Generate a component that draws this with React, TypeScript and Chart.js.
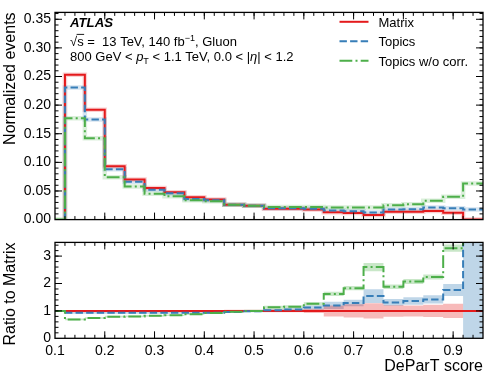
import React, { useEffect, useRef } from "react";
import { Chart, registerables } from "chart.js";
Chart.register(...registerables);

const FONT = "'Liberation Sans', Arial, Helvetica, sans-serif";

// Bin edges of the DeParT score histograms
const BIN_EDGES = [0.12, 0.16, 0.2, 0.24, 0.28, 0.32, 0.36, 0.4, 0.44, 0.48, 0.52, 0.56, 0.6, 0.64, 0.68, 0.72, 0.76, 0.8, 0.84, 0.88, 0.92, 0.96];
const X_MIN = 0.1;
const X_MAX = 0.96;

// Normalized events (upper panel)
const MATRIX = [0.253, 0.192, 0.093, 0.07, 0.055, 0.048, 0.039, 0.035, 0.026, 0.024, 0.019, 0.019, 0.0175, 0.013, 0.0115, 0.008, 0.0135, 0.0135, 0.015, 0.012, 0.0];
const TOPICS = [0.231, 0.175, 0.088, 0.066, 0.052, 0.046, 0.036, 0.034, 0.026, 0.024, 0.02, 0.02, 0.019, 0.0158, 0.0148, 0.0125, 0.0175, 0.018, 0.021, 0.02, 0.0175];
const TOPICS_NOCORR = [0.177, 0.142, 0.074, 0.058, 0.045, 0.041, 0.034, 0.032, 0.026, 0.024, 0.022, 0.022, 0.022, 0.021, 0.021, 0.021, 0.025, 0.027, 0.033, 0.04, 0.063];

// Ratio to Matrix (lower panel)
const RATIO_MATRIX = [1, 1, 1, 1, 1, 1, 1, 1, 1, 1, 1, 1, 1, 1, 1, 1, 1, 1, 1, 1, 1];
const RATIO_TOPICS = [0.93, 0.93, 0.93, 0.93, 0.93, 0.93, 0.93, 0.93, 0.96, 0.99, 1.02, 1.05, 1.12, 1.2, 1.29, 1.54, 1.31, 1.36, 1.42, 1.76, 6];
const RATIO_NOCORR = [0.69, 0.74, 0.79, 0.8, 0.82, 0.84, 0.88, 0.92, 0.97, 1.0, 1.13, 1.15, 1.26, 1.62, 1.83, 2.6, 1.88, 2.07, 2.24, 3.29, 6];
// Uncertainty half-widths of the ratios
const ERR_MATRIX = [0.03, 0.03, 0.03, 0.03, 0.03, 0.03, 0.03, 0.03, 0.04, 0.04, 0.05, 0.05, 0.08, 0.2, 0.24, 0.28, 0.21, 0.2, 0.22, 0.26, 0];
const ERR_TOPICS = [0.03, 0.03, 0.03, 0.03, 0.03, 0.03, 0.03, 0.03, 0.04, 0.04, 0.05, 0.05, 0.08, 0.13, 0.12, 0.25, 0.12, 0.14, 0.15, 0.22, 10];
const ERR_NOCORR = [0.03, 0.03, 0.03, 0.03, 0.03, 0.03, 0.03, 0.03, 0.04, 0.04, 0.06, 0.06, 0.06, 0.08, 0.08, 0.15, 0.08, 0.09, 0.09, 0.13, 0.3];

const SERIES_NAMES = ["Matrix", "Topics", "Topics w/o corr."];
const RED = "#e41a1c";
const BLUE = "#377eb8";
const GREEN = "#4daf4a";
const RED_BAND = "rgba(228,26,28,0.3)";
const BLUE_BAND = "rgba(55,126,184,0.32)";
const GREEN_BAND = "rgba(77,175,74,0.3)";
const RED_EDGE = "rgba(228,26,28,0.2)";
const BLUE_EDGE = "rgba(55,126,184,0.2)";
const GREEN_EDGE = "rgba(77,175,74,0.2)";
const DASH_BLUE = [7.4, 3.2];
const DASH_GREEN = [12.8, 3.2, 2, 3.2];

// Tick steps
const TOP_Y_MAX = 0.362;
const TOP_Y_MAJOR = 0.05;
const TOP_Y_MINOR = 0.01;
const RATIO_Y_MAX = 3.5;
const RATIO_Y_MAJOR = 1;
const RATIO_Y_MINOR = 0.2;
const X_MAJOR = 0.1;
const X_MINOR = 0.02;

type Pt = { x: number; y: number };

function steps(vals: number[], start?: Pt): Pt[] {
  const pts: Pt[] = [];
  if (start) pts.push(start);
  vals.forEach((v, i) => pts.push({ x: BIN_EDGES[i], y: v }));
  pts.push({ x: BIN_EDGES[BIN_EDGES.length - 1], y: vals[vals.length - 1] });
  return pts;
}

function tickList(min: number, max: number, step: number): number[] {
  const out: number[] = [];
  const n = Math.floor((max - min) / step + 1e-6);
  for (let i = 0; i <= n; i++) out.push(Math.round((min + i * step) * 1e6) / 1e6);
  return out;
}

function framePlugin(xMin: number, xMax: number, yMax: number, yMajor: number, yMinor: number) {
  return {
    id: "atlasFrame",
    afterDraw(chart: any) {
      const { ctx, chartArea: a, scales } = chart;
      const xs = scales.x;
      const ys = scales.y;
      ctx.save();
      ctx.strokeStyle = "#000";
      ctx.lineWidth = 1;
      const seg = (x1: number, y1: number, x2: number, y2: number) => {
        ctx.beginPath();
        ctx.moveTo(x1, y1);
        ctx.lineTo(x2, y2);
        ctx.stroke();
      };
      const xTick = (vals: number[], len: number) =>
        vals.forEach((v) => {
          const p = xs.getPixelForValue(v);
          if (p < a.left + 0.5 || p > a.right - 0.5) return;
          seg(p, a.bottom, p, a.bottom - len);
          seg(p, a.top, p, a.top + len);
        });
      const yTick = (vals: number[], len: number) =>
        vals.forEach((v) => {
          const p = ys.getPixelForValue(v);
          if (p < a.top + 0.5 || p > a.bottom - 0.5) return;
          seg(a.left, p, a.left + len, p);
          seg(a.right, p, a.right - len, p);
        });
      xTick(tickList(xMin, xMax, X_MINOR), 3.5);
      xTick(tickList(xMin, xMax, X_MAJOR), 7);
      yTick(tickList(0, yMax, yMinor), 3.5);
      yTick(tickList(0, yMax, yMajor), 7);
      ctx.lineWidth = 1.3;
      ctx.strokeRect(a.left, a.top, a.right - a.left, a.bottom - a.top);
      ctx.restore();
    },
  };
}

type Run = { t: string; style?: string; size?: number; dy?: number; overline?: boolean };

function drawRuns(ctx: CanvasRenderingContext2D, x: number, y: number, runs: Run[]) {
  let cx = x;
  for (const r of runs) {
    const size = r.size || 13;
    ctx.font = `${r.style || ""} ${size}px ${FONT}`;
    ctx.fillText(r.t, cx, y + (r.dy || 0));
    const w = ctx.measureText(r.t).width;
    if (r.overline) {
      ctx.save();
      ctx.lineWidth = 0.9;
      ctx.beginPath();
      ctx.moveTo(cx - 0.5, y - 11.2);
      ctx.lineTo(cx + w + 0.5, y - 11.2);
      ctx.stroke();
      ctx.restore();
    }
    cx += w;
  }
}

const annotationPlugin = {
  id: "annot",
  afterDraw(chart: any) {
    const ctx: CanvasRenderingContext2D = chart.ctx;
    ctx.save();
    ctx.fillStyle = "#000";
    ctx.strokeStyle = "#000";
    ctx.textBaseline = "alphabetic";
    ctx.textAlign = "left";
    drawRuns(ctx, 70, 27.3, [{ t: "ATLAS", style: "italic bold", size: 13.2 }]);
    drawRuns(ctx, 70, 45.6, [
      { t: "√" },
      { t: "s", overline: true },
      { t: " =  13 TeV, 140 fb" },
      { t: "−1", size: 9, dy: -5 },
      { t: ", Gluon" },
    ]);
    drawRuns(ctx, 70, 61.3, [
      { t: "800 GeV < " },
      { t: "p", style: "italic" },
      { t: "T", size: 9, dy: 3 },
      { t: " < 1.1 TeV, 0.0 < |" },
      { t: "η", style: "italic" },
      { t: "| < 1.2" },
    ]);
    // legend
    const colors = [RED, BLUE, GREEN];
    const dashes = [[], DASH_BLUE, DASH_GREEN];
    SERIES_NAMES.forEach((name, i) => {
      const ly = 21.8 + i * 19.5;
      ctx.save();
      ctx.strokeStyle = colors[i];
      ctx.lineWidth = 2;
      ctx.setLineDash(dashes[i] as number[]);
      ctx.beginPath();
      ctx.moveTo(339.5, ly);
      ctx.lineTo(368.5, ly);
      ctx.stroke();
      ctx.restore();
      ctx.font = `13px ${FONT}`;
      ctx.fillText(name, 378.5, ly + 4.7);
    });
    ctx.restore();
  },
};

function lineDs(data: Pt[], color: string, dash: number[], order: number) {
  return {
    type: "line",
    data,
    borderColor: color,
    borderWidth: 2,
    borderDash: dash,
    borderCapStyle: "butt",
    pointRadius: 0,
    stepped: "before",
    fill: false,
    order,
  };
}

function bandDs(data: Pt[], color: string, order: number) {
  return {
    type: "line",
    data,
    borderColor: color,
    borderWidth: 4.5,
    pointRadius: 0,
    stepped: "before",
    fill: false,
    order,
  };
}

function ratioBand(vals: number[], errs: number[], color: string, start?: Pt) {
  const lo = steps(vals.map((v, i) => v - errs[i]), start);
  const hi = steps(vals.map((v, i) => v + errs[i]), start);
  return [
    { type: "line", data: lo, borderWidth: 0, pointRadius: 0, stepped: "before", fill: false, order: 20 },
    { type: "line", data: hi, borderWidth: 0, pointRadius: 0, stepped: "before", fill: "-1", backgroundColor: color, order: 20 },
  ];
}

const tickFont = { family: FONT, size: 14 };
const titleFont = { family: FONT, size: 16 };

export default function App() {
  const topRef = useRef<HTMLCanvasElement>(null);
  const botRef = useRef<HTMLCanvasElement>(null);

  useEffect(() => {
    const top = new Chart(topRef.current as HTMLCanvasElement, {
      type: "line",
      data: {
        datasets: [
          bandDs(steps(MATRIX, { x: BIN_EDGES[0], y: 0 }), RED_EDGE, 12),
          bandDs(steps(TOPICS, { x: BIN_EDGES[0], y: 0 }), BLUE_EDGE, 11),
          bandDs(steps(TOPICS_NOCORR, { x: X_MIN, y: 0 }), GREEN_EDGE, 10),
          lineDs(steps(MATRIX, { x: BIN_EDGES[0], y: 0 }), RED, [], 3),
          lineDs(steps(TOPICS, { x: BIN_EDGES[0], y: 0 }), BLUE, DASH_BLUE, 2),
          lineDs(steps(TOPICS_NOCORR, { x: X_MIN, y: 0 }), GREEN, DASH_GREEN, 1),
        ] as any,
      },
      options: {
        responsive: false,
        animation: false,
        events: [],
        layout: { padding: { left: 0, right: 5, top: 3.5, bottom: 8.7 } },
        plugins: { legend: { display: false }, tooltip: { enabled: false } },
        scales: {
          x: { type: "linear", min: X_MIN, max: X_MAX, display: false },
          y: {
            type: "linear",
            min: 0,
            max: TOP_Y_MAX,
            afterFit: (s: any) => {
              s.width = 55;
            },
            grid: { display: false, drawTicks: false },
            border: { display: false },
            ticks: {
              stepSize: TOP_Y_MAJOR,
              includeBounds: false,
              autoSkip: false,
              padding: 4,
              color: "#000",
              font: tickFont,
              callback: (v: any) => Number(v).toFixed(2),
            },
            title: {
              display: true,
              text: "Normalized events",
              align: "end",
              color: "#000",
              font: titleFont,
              padding: { top: 1, bottom: 0 },
            },
          },
        },
      } as any,
      plugins: [framePlugin(X_MIN, X_MAX, TOP_Y_MAX, TOP_Y_MAJOR, TOP_Y_MINOR), annotationPlugin],
    });

    const bot = new Chart(botRef.current as HTMLCanvasElement, {
      type: "line",
      data: {
        datasets: [
          ...ratioBand(RATIO_MATRIX, ERR_MATRIX, RED_BAND),
          ...ratioBand(RATIO_TOPICS, ERR_TOPICS, BLUE_BAND),
          ...ratioBand(RATIO_NOCORR, ERR_NOCORR, GREEN_BAND),
          lineDs(steps(RATIO_MATRIX), RED, [], 3),
          lineDs(steps(RATIO_TOPICS), BLUE, DASH_BLUE, 2),
          lineDs(steps(RATIO_NOCORR, { x: X_MIN, y: 1 }), GREEN, DASH_GREEN, 1),
        ] as any,
      },
      options: {
        responsive: false,
        animation: false,
        events: [],
        layout: { padding: { left: 0, right: 5, top: 10, bottom: 0 } },
        plugins: { legend: { display: false }, tooltip: { enabled: false } },
        scales: {
          x: {
            type: "linear",
            min: X_MIN,
            max: X_MAX,
            afterFit: (s: any) => {
              s.height = 42.7;
            },
            grid: { display: false, drawTicks: false },
            border: { display: false },
            ticks: {
              stepSize: X_MAJOR,
              includeBounds: false,
              autoSkip: false,
              maxRotation: 0,
              padding: 4,
              color: "#000",
              font: tickFont,
              callback: (v: any) => Number(v).toFixed(1),
            },
            title: {
              display: true,
              text: "DeParT score",
              align: "end",
              color: "#000",
              font: titleFont,
              padding: { top: 0, bottom: 4.7 },
            },
          },
          y: {
            type: "linear",
            min: 0,
            max: RATIO_Y_MAX,
            afterFit: (s: any) => {
              s.width = 55;
            },
            grid: { display: false, drawTicks: false },
            border: { display: false },
            ticks: {
              stepSize: RATIO_Y_MAJOR,
              includeBounds: false,
              autoSkip: false,
              padding: 4,
              color: "#000",
              font: tickFont,
              callback: (v: any) => String(Math.round(Number(v))),
            },
            title: {
              display: true,
              text: "Ratio to Matrix",
              align: "end",
              color: "#000",
              font: titleFont,
              padding: { top: 1, bottom: 0 },
            },
          },
        },
      } as any,
      plugins: [framePlugin(X_MIN, X_MAX, RATIO_Y_MAX, RATIO_Y_MAJOR, RATIO_Y_MINOR)],
    });

    return () => {
      top.destroy();
      bot.destroy();
    };
  }, []);

  return (
    <div style={{ position: "fixed", left: 0, top: 0, width: 488, height: 381, background: "#fff" }}>
      <canvas ref={topRef} width={488} height={232} style={{ position: "absolute", left: 0, top: 0 }} />
      <canvas ref={botRef} width={488} height={151} style={{ position: "absolute", left: 0, top: 230 }} />
    </div>
  );
}
